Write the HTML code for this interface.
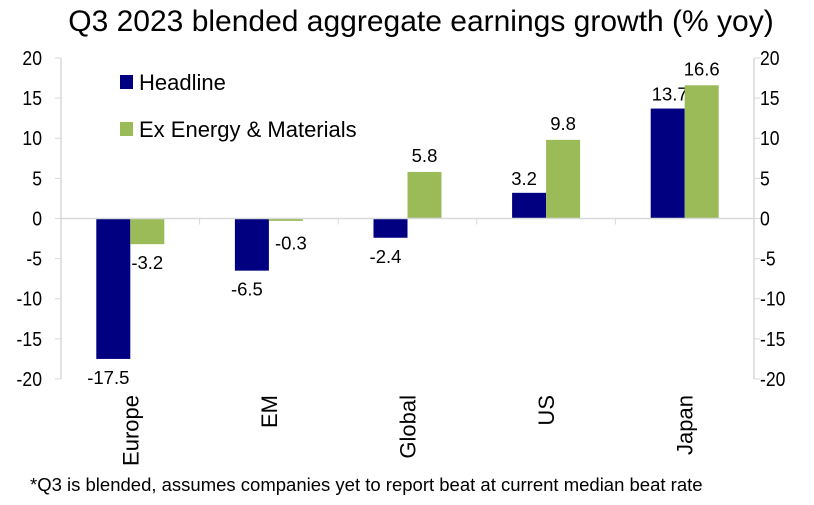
<!DOCTYPE html>
<html><head><meta charset="utf-8"><style>
body{margin:0;background:#fff;}
svg text{font-family:"Liberation Sans",sans-serif;}
</style></head><body>
<svg id="c" width="814" height="500" xmlns="http://www.w3.org/2000/svg">
<text x="421" y="31" font-size="30" text-anchor="middle">Q3 2023 blended aggregate earnings growth (% yoy)</text>
<g id="plot"></g>
<text x="30" y="491" font-size="18.5">*Q3 is blended, assumes companies yet to report beat at current median beat rate</text>
</svg>
<script>
const categories=["Europe","EM","Global","US","Japan"];
const headline=[-17.5,-6.5,-2.4,3.2,13.7];
const exEnergy=[-3.2,-0.3,5.8,9.8,16.6];
const ticks=[20,15,10,5,0,-5,-10,-15,-20];
const NS="http://www.w3.org/2000/svg";
const g=document.getElementById('plot');
const L=61,R=754,T=58,B=379;
const y=v=>T+(20-v)*(B-T)/40;
const step=(R-L)/categories.length;
const bw=34;
function el(t,a,txt){const e=document.createElementNS(NS,t);for(const k in a)e.setAttribute(k,a[k]);if(txt!=null)e.textContent=txt;g.appendChild(e);return e;}
function sx(e,x){e.setAttribute('transform',`translate(${x},0) scale(0.88,1) translate(${-x},0)`);}
let a=el('line',{x1:L,x2:L,y1:T,y2:B,stroke:'#d9d9d9','stroke-width':1.5});

a=el('line',{x1:R,x2:R,y1:T,y2:B,stroke:'#d9d9d9','stroke-width':1.5});

ticks.forEach(t=>{
 let e=el('line',{x1:L-6,x2:L,y1:y(t),y2:y(t),stroke:'#d9d9d9'});
 
 e=el('line',{x1:R,x2:R+6,y1:y(t),y2:y(t),stroke:'#d9d9d9'});
 
 e=el('text',{x:42,y:y(t)+7,'font-size':20,'text-anchor':'end'},String(t));sx(e,42);
 
 e=el('text',{x:760,y:y(t)+7,'font-size':20},String(t));sx(e,760);
 
});
categories.forEach((c,i)=>{
 const cx=L+step*(i+0.5);
 if(i>0){let e=el('line',{x1:L+step*i,x2:L+step*i,y1:y(0),y2:y(0)+6,stroke:'#d9d9d9'});
  }
 [[headline[i],'#000080',cx-bw,'headline'],[exEnergy[i],'#9bbb59',cx,'ex-energy']].forEach(([v,col,x,n],k)=>{
  let r=el('rect',{x:x,y:Math.min(y(v),y(0)),width:bw,height:Math.abs(y(v)-y(0)),fill:col});
  
  let lx,ly;
  if(k===0){lx=x+bw/2-5;ly=v<0?y(v)+25:y(v)-8;if(v>10)lx=x+bw/2+2;}
  else{lx=x+bw/2;ly=v<0?y(v)+25:y(v)-10;if(v>-1&&v<0){lx=x+bw/2+5;ly=y(0)+31;}}
  let t=el('text',{x:lx,y:ly,'font-size':18.5,'text-anchor':'middle'},v.toFixed(1));
  
 });
 let t=el('text',{x:0,y:0,'font-size':22,'text-anchor':'end',transform:`translate(${cx+8},395) rotate(-90)`},c);
 
});
let z=el('line',{x1:L,x2:R,y1:y(0),y2:y(0),stroke:'#d9d9d9','stroke-width':1.5});

let lg=el('rect',{x:120,y:75,width:13,height:14,fill:'#000080'});

lg=el('text',{x:139,y:90,'font-size':22},'Headline');

lg=el('rect',{x:120,y:122,width:13,height:14,fill:'#9bbb59'});

lg=el('text',{x:139,y:137,'font-size':22},'Ex Energy & Materials');

</script>
</body></html>
